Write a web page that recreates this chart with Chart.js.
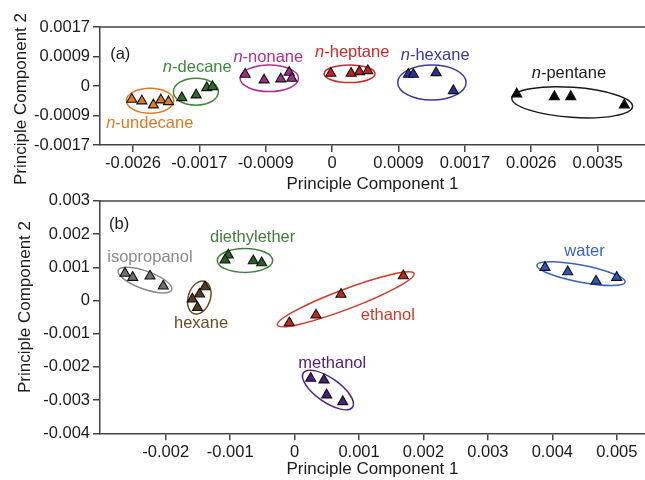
<!DOCTYPE html>
<html><head><meta charset="utf-8">
<script src="https://cdn.jsdelivr.net/npm/chart.js@4/dist/chart.umd.min.js"></script>
<style>
html,body{margin:0;padding:0;background:#fff;}
body{width:645px;height:480px;overflow:hidden;position:relative;}
#ca{position:absolute;left:0;top:0;}
#cb{position:absolute;left:0;top:188px;}
</style></head>
<body>
<canvas id="ca" width="645" height="195"></canvas>
<canvas id="cb" width="645" height="292"></canvas>
<script>
const FONT = "'Liberation Sans', Arial, Helvetica, sans-serif";

// ---------- Panel (a) data ----------
const aUndecaneX = [-0.002625, -0.002493, -0.002342, -0.002244, -0.002145];
const aUndecaneY = [-0.000383, -0.000432, -0.000547, -0.000403, -0.000452];
const aDecaneX   = [-0.001970, -0.001782, -0.001642, -0.001568];
const aDecaneY   = [-0.000337, -0.000259, -0.000049, -0.000020];
const aNonaneX   = [-0.001140, -0.000891, -0.000672, -0.000563, -0.000528];
const aNonaneY   = [ 0.000337,  0.000173,  0.000202,  0.000395,  0.000222];
const aHeptaneX  = [-0.000017,  0.000249,  0.000358,  0.000468];
const aHeptaneY  = [ 0.000366,  0.000366,  0.000412,  0.000441];
const aHexaneX   = [ 0.001000,  0.001065,  0.001363,  0.001589];
const aHexaneY   = [ 0.000337,  0.000337,  0.000383, -0.000135];
const aPentaneX  = [ 0.002420,  0.002913,  0.003128,  0.003830];
const aPentaneY  = [-0.000230, -0.000308, -0.000308, -0.000547];

const aXTicks      = [-0.00261, -0.00174, -0.00087, 0, 0.00087, 0.00174, 0.00261, 0.00348];
const aXTickLabels = ['-0.0026', '-0.0017', '-0.0009', '0', '0.0009', '0.0017', '0.0026', '0.0035'];
const aYTicks      = [-0.0017, -0.00085, 0, 0.00085, 0.0017];
const aYTickLabels = ['-0.0017', '-0.0009', '0', '0.0009', '0.0017'];

// ---------- Panel (b) data ----------
const bIsopropanolX  = [-0.002632, -0.002513, -0.002244, -0.002038];
const bIsopropanolY  = [ 0.000816,  0.000695,  0.000734,  0.000433];
const bHexaneX       = [-0.001391, -0.001476, -0.001588, -0.001507];
const bHexaneY       = [ 0.000412,  0.000193,  0.000042, -0.000214];
const bDiethyletherX = [-0.001029, -0.001080, -0.000641, -0.000511];
const bDiethyletherY = [ 0.001366,  0.001216,  0.001195,  0.001135];
const bEthanolX      = [-0.000082,  0.000332,  0.000720,  0.001687];
const bEthanolY      = [-0.000671, -0.000439,  0.000184,  0.000743];
const bMethanolX     = [ 0.000250,  0.000456,  0.000498,  0.000747];
const bMethanolY     = [-0.002344, -0.002395, -0.002847, -0.003048];
const bWaterX        = [ 0.003886,  0.004239,  0.004678,  0.004999];
const bWaterY        = [ 0.000996,  0.000864,  0.000584,  0.000695];

const bXTicks      = [-0.002, -0.001, 0, 0.001, 0.002, 0.003, 0.004, 0.005];
const bXTickLabels = ['-0.002', '-0.001', '0', '0.001', '0.002', '0.003', '0.004', '0.005'];
const bYTicks      = [-0.004, -0.003, -0.002, -0.001, 0, 0.001, 0.002, 0.003];
const bYTickLabels = ['-0.004', '-0.003', '-0.002', '-0.001', '0', '0.001', '0.002', '0.003'];

// ---------- annotations: ellipses (centre in data units, size in px) & labels ----------
const aEllipses = [
  {x:-0.002385, y:-0.000426, rx:23.7, ry:12.5, rot:0,  color:'#e07a25'},
  {x:-0.001785, y:-0.000164, rx:22.5, ry:13.5, rot:0,  color:'#3f8a3a'},
  {x:-0.000823, y: 0.000222, rx:29.2, ry:13.3, rot:0,  color:'#b0308f'},
  {x: 0.000229, y: 0.000352, rx:25.5, ry:8.8,  rot:0,  color:'#cc2a2a'},
  {x: 0.001308, y: 0.000101, rx:34.2, ry:17.5, rot:0,  color:'#3a3a9c'},
  {x: 0.003147, y:-0.000470, rx:60.5, ry:15,   rot:4,  color:'#1a1a1a'}
];
const aLabels = [
  {text:'(a)', x:-0.002909, y:0.000764, color:'#1a1a1a', it:false},
  {text:'n-undecane', x:-0.002961, y:-0.00121, color:'#e07a25', it:true},
  {text:'n-decane',   x:-0.002218, y:0.000400, color:'#3f8a3a', it:true},
  {text:'n-nonane',   x:-0.001293, y:0.000700, color:'#b0308f', it:true},
  {text:'n-heptane',  x:-0.000223, y:0.000850, color:'#cc2a2a', it:true},
  {text:'n-hexane',   x: 0.000900, y:0.000749, color:'#3a3a9c', it:true},
  {text:'n-pentane',  x: 0.002617, y:0.000222, color:'#1a1a1a', it:true}
];
const bEllipses = [
  {x:-0.002322, y: 0.000614, rx:28.5, ry:9,   rot:20,   color:'#8a8a8a'},
  {x:-0.001479, y: 0.000087, rx:17,   ry:11,  rot:-72,  color:'#6e4a25'},
  {x:-0.000770, y: 0.001207, rx:27.7, ry:12,  rot:0,    color:'#3f7f3a'},
  {x: 0.000793, y: 0.000036, rx:73,   ry:10,  rot:-20.7,color:'#d03a2a'},
  {x: 0.000518, y:-0.002696, rx:30,   ry:12,  rot:35,   color:'#52237e'},
  {x: 0.004445, y: 0.000810, rx:45,   ry:8.5, rot:11,   color:'#3a62c0'}
];
const bLabels = [
  {text:'(b)',          x:-0.002880, y: 0.002149, color:'#1a1a1a', it:false},
  {text:'isopropanol',  x:-0.002907, y: 0.001171, color:'#8a8a8a', it:false},
  {text:'diethylether', x:-0.001313, y: 0.001766, color:'#3f7f3a', it:false},
  {text:'hexane',       x:-0.001872, y:-0.000822, color:'#6e4a25', it:false},
  {text:'ethanol',      x: 0.001026, y:-0.000590, color:'#d03a2a', it:false},
  {text:'methanol',     x: 0.000057, y:-0.002043, color:'#52237e', it:false},
  {text:'water',        x: 0.004186, y: 0.001336, color:'#3a62c0', it:false}
];

function pts(xs, ys) { return xs.map((x, i) => ({x: x, y: ys[i]})); }
function ds(xs, ys, fill) {
  return { data: pts(xs, ys), showLine: false, pointStyle: 'triangle', pointRadius: 5.8,
           pointHoverRadius: 5.8, backgroundColor: fill, borderColor: '#111', borderWidth: 1.1 };
}

function annPlugin(ellipses, labels, yTitle) {
  return {
    id: 'ann',
    beforeDatasetsDraw(chart) {
      const ctx = chart.ctx, xs = chart.scales.x, ys = chart.scales.y;
      ctx.save();
      ellipses.forEach(e => {
        ctx.beginPath();
        ctx.ellipse(xs.getPixelForValue(e.x), ys.getPixelForValue(e.y), e.rx, e.ry, e.rot * Math.PI / 180, 0, Math.PI * 2);
        ctx.strokeStyle = e.color; ctx.lineWidth = 1.5; ctx.stroke();
      });
      ctx.restore();
    },
    afterDraw(chart) {
      const ctx = chart.ctx, xs = chart.scales.x, ys = chart.scales.y, ca = chart.chartArea;
      ctx.save();
      // top frame line
      ctx.beginPath(); ctx.moveTo(ca.left, ca.top); ctx.lineTo(ca.right, ca.top);
      ctx.strokeStyle = '#444'; ctx.lineWidth = 1.5; ctx.stroke();
      // y axis title
      ctx.save();
      ctx.translate(yTitle.x, yTitle.y); ctx.rotate(-Math.PI / 2);
      ctx.font = '17px ' + FONT; ctx.fillStyle = '#1a1a1a';
      ctx.textAlign = 'center'; ctx.textBaseline = 'middle';
      ctx.fillText(yTitle.text, 0, 0);
      ctx.restore();
      ctx.textBaseline = 'alphabetic'; ctx.textAlign = 'left';
      labels.forEach(l => {
        let px = xs.getPixelForValue(l.x); const py = ys.getPixelForValue(l.y);
        ctx.fillStyle = l.color;
        let t = l.text;
        if (l.it) {
          ctx.font = 'italic 16.5px ' + FONT;
          ctx.fillText(t[0], px, py);
          px += ctx.measureText(t[0]).width;
          t = t.slice(1);
        }
        ctx.font = '16.5px ' + FONT;
        ctx.fillText(t, px, py);
      });
      ctx.restore();
    }
  };
}

function makeChart(id, datasets, p) {
  return new Chart(document.getElementById(id), {
    type: 'scatter',
    data: { datasets: datasets },
    plugins: [annPlugin(p.ellipses, p.labels, p.yTitle)],
    options: {
      responsive: false, animation: false, devicePixelRatio: 1,
      layout: { autoPadding: false, padding: { top: p.padTop, left: 0, right: 0, bottom: 0 } },
      plugins: { legend: { display: false }, tooltip: { enabled: false } },
      scales: {
        x: {
          type: 'linear', position: 'bottom', min: p.xMin, max: p.xMax,
          afterBuildTicks: s => { s.ticks = p.xTicks.map(v => ({ value: v })); },
          afterFit: s => { s.height = p.axisH; },
          ticks: { callback: (v, i) => p.xLabels[i], font: { family: FONT, size: 16.5 }, color: '#1a1a1a',
                   padding: 2, maxRotation: 0, autoSkip: false },
          grid: { drawOnChartArea: false, drawTicks: true, tickLength: 7, color: '#444', lineWidth: 1.5 },
          border: { display: true, color: '#444', width: 1.5 },
          title: { display: true, text: 'Principle Component 1', font: { family: FONT, size: 17 }, color: '#1a1a1a', padding: 0 }
        },
        y: {
          type: 'linear', min: p.yMin, max: p.yMax,
          afterBuildTicks: s => { s.ticks = p.yTicks.map(v => ({ value: v })); },
          afterFit: s => { s.width = 100; },
          ticks: { callback: (v, i) => p.yLabels[i], font: { family: FONT, size: 16.5 }, color: '#1a1a1a',
                   padding: 3, autoSkip: false },
          grid: { drawOnChartArea: false, drawTicks: true, tickLength: 7, color: '#444', lineWidth: 1.5 },
          border: { display: true, color: '#444', width: 1.5 },
          title: { display: false }
        }
      }
    }
  });
}

makeChart('ca', [
  ds(aUndecaneX, aUndecaneY, '#e07b1f'),
  ds(aDecaneX, aDecaneY, '#2f6b2a'),
  ds(aNonaneX, aNonaneY, '#9a2f8a'),
  ds(aHeptaneX, aHeptaneY, '#c81e1e'),
  ds(aHexaneX, aHexaneY, '#2f2f9a'),
  ds(aPentaneX, aPentaneY, '#000000')
], { xMin: -0.003042, xMax: 0.004101, yMin: -0.0017, yMax: 0.0017, xTicks: aXTicks, xLabels: aXTickLabels,
     yTicks: aYTicks, yLabels: aYTickLabels, axisH: 50, padTop: 27, ellipses: aEllipses, labels: aLabels,
     yTitle: { text: 'Principle Component 2', x: 21, y: 99 } });

makeChart('cb', [
  ds(bIsopropanolX, bIsopropanolY, '#707070'),
  ds(bHexaneX, bHexaneY, '#5c3a17'),
  ds(bDiethyletherX, bDiethyletherY, '#2e5e28'),
  ds(bEthanolX, bEthanolY, '#c0281c'),
  ds(bMethanolX, bMethanolY, '#4a1f80'),
  ds(bWaterX, bWaterY, '#3055b8')
], { xMin: -0.00302, xMax: 0.005438, yMin: -0.004, yMax: 0.003, xTicks: bXTicks, xLabels: bXTickLabels,
     yTicks: bYTicks, yLabels: bYTickLabels, axisH: 46.7, padTop: 12.7, ellipses: bEllipses, labels: bLabels,
     yTitle: { text: 'Principle Component 2', x: 25, y: 119 } });
</script>
</body></html>
